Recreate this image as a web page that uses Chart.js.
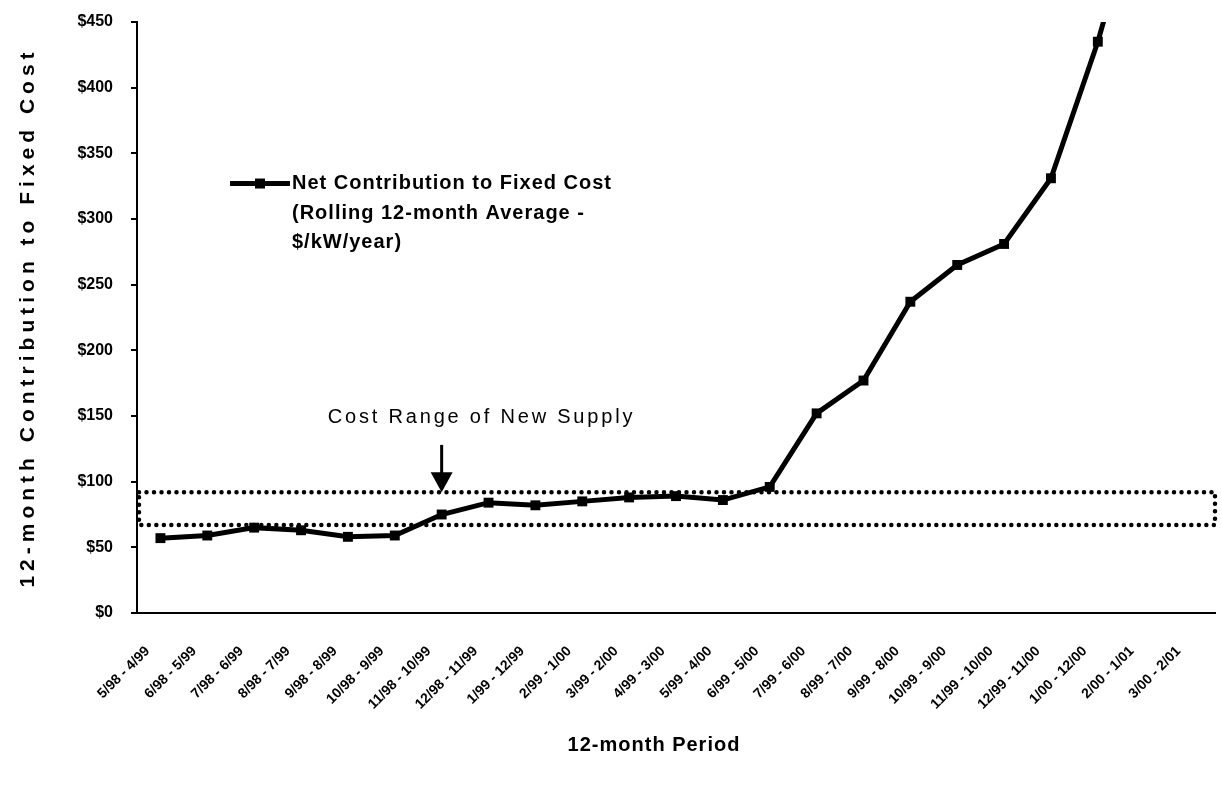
<!DOCTYPE html>
<html>
<head>
<meta charset="utf-8">
<script src="https://cdn.jsdelivr.net/npm/chart.js@4/dist/chart.umd.min.js"></script>
<style>
  html, body { margin: 0; padding: 0; background: #fff; }
  #wrap { width: 1222px; height: 789px; }
</style>
</head>
<body>
<div id="wrap"><canvas id="chart-1"></canvas></div>
<script>
  // rolling 12-month periods on the x axis
  const periods = [
    '5/98 - 4/99', '6/98 - 5/99', '7/98 - 6/99', '8/98 - 7/99', '9/98 - 8/99',
    '10/98 - 9/99', '11/98 - 10/99', '12/98 - 11/99', '1/99 - 12/99', '2/99 - 1/00',
    '3/99 - 2/00', '4/99 - 3/00', '5/99 - 4/00', '6/99 - 5/00', '7/99 - 6/00',
    '8/99 - 7/00', '9/99 - 8/00', '10/99 - 9/00', '11/99 - 10/00', '12/99 - 11/00',
    '1/00 - 12/00', '2/00 - 1/01', '3/00 - 2/01'
  ];
  // $/kW/year, the 2/00 - 1/01 value runs off the top of the chart
  const netContribution = [
    57, 59, 65, 63, 58, 59, 75, 84, 82, 85, 88, 89, 86, 96,
    152, 177, 237, 265, 281, 331, 435, 560, null
  ];
  const supplyCostLow = 67;
  const supplyCostHigh = 92;
  const yMin = 0, yMax = 450, yStep = 50;
  const xTitle = '12-month Period';
  const yTitle = '12-month Contribution to Fixed Cost';
  const legendLines = ['Net Contribution to Fixed Cost', '(Rolling 12-month Average -', '$/kW/year)'];
  const noteText = 'Cost Range of New Supply';
  const noteIndex = 7;     // text centred over this period
  const arrowIndex = 6;    // arrow points down at this period
  const arrowTopValue = 128;
  const noteValue = 149;
  const legendValue = 327;

  const FONT = '"Liberation Sans", Arial, sans-serif';

  const overlays = {
    id: 'overlays',
    beforeDatasetsDraw(chart) {
      const { ctx, chartArea, scales } = chart;
      const yLo = scales.y.getPixelForValue(supplyCostLow);
      const yHi = scales.y.getPixelForValue(supplyCostHigh);
      ctx.save();
      ctx.strokeStyle = '#000';
      ctx.lineWidth = 4.5;
      ctx.lineCap = 'round';
      ctx.setLineDash([0, 7.5]);
      ctx.beginPath();
      ctx.moveTo(chartArea.left + 2, yHi);
      ctx.lineTo(chartArea.right, yHi);
      ctx.lineTo(chartArea.right, yLo);
      ctx.lineTo(chartArea.left + 2, yLo);
      ctx.closePath();
      ctx.stroke();
      ctx.restore();
    },
    afterDraw(chart) {
      const { ctx, chartArea, scales } = chart;
      ctx.save();
      ctx.fillStyle = '#000';
      ctx.strokeStyle = '#000';

      // arrow
      const ax = scales.x.getPixelForValue(arrowIndex);
      const aTop = scales.y.getPixelForValue(arrowTopValue);
      const aTip = scales.y.getPixelForValue(supplyCostHigh);
      ctx.lineWidth = 3;
      ctx.beginPath();
      ctx.moveTo(ax, aTop);
      ctx.lineTo(ax, aTip - 18);
      ctx.stroke();
      ctx.beginPath();
      ctx.moveTo(ax - 11, aTip - 20);
      ctx.lineTo(ax + 11, aTip - 20);
      ctx.lineTo(ax, aTip);
      ctx.closePath();
      ctx.fill();

      // note
      ctx.font = '20px ' + FONT;
      ctx.letterSpacing = '2.8px';
      ctx.textAlign = 'center';
      ctx.textBaseline = 'middle';
      ctx.fillText(noteText, scales.x.getPixelForValue(noteIndex) - 7, scales.y.getPixelForValue(noteValue));

      // legend
      const ly = scales.y.getPixelForValue(legendValue);
      const lx = chartArea.left + 93;
      ctx.lineWidth = 5;
      ctx.beginPath();
      ctx.moveTo(lx, ly);
      ctx.lineTo(lx + 60, ly);
      ctx.stroke();
      ctx.fillRect(lx + 25, ly - 5, 10, 10);
      ctx.font = 'bold 20px ' + FONT;
      ctx.letterSpacing = '1px';
      ctx.textAlign = 'left';
      legendLines.forEach((t, i) => {
        ctx.fillText(t, lx + 62, ly + i * 29.5);
      });

      // axis titles
      ctx.textAlign = 'center';
      ctx.fillText(xTitle, (chartArea.left + chartArea.right) / 2 - 22, 745);
      ctx.save();
      ctx.translate(28, (chartArea.top + chartArea.bottom) / 2);
      ctx.rotate(-Math.PI / 2);
      ctx.font = 'bold 21px ' + FONT;
      ctx.letterSpacing = '5px';
      ctx.fillText(yTitle, 0, 0);
      ctx.restore();
      ctx.restore();
    }
  };

  const chart = new Chart(document.getElementById('chart-1'), {
    type: 'line',
    data: {
      labels: periods,
      datasets: [{
        label: legendLines.join(' '),
        data: netContribution,
        borderColor: '#000',
        backgroundColor: '#000',
        borderWidth: 5,
        pointStyle: 'rect',
        pointRadius: 7,
        pointBorderWidth: 0,
        tension: 0,
        fill: false
      }]
    },
    options: {
      responsive: true,
      maintainAspectRatio: false,
      animation: false,
      layout: { padding: { top: 22, right: 3, left: 0, bottom: 0 } },
      plugins: {
        legend: { display: false },
        tooltip: { enabled: false }
      },
      scales: {
        x: {
          offset: true,
          afterFit: (scale) => {
            scale.height = 176;
            scale.paddingLeft = 0;
            scale.paddingRight = 0;
          },
          grid: { display: false, drawTicks: false },
          border: { display: true, color: '#000', width: 2 },
          ticks: {
            color: '#000',
            font: { family: FONT, size: 14, weight: 'bold' },
            minRotation: 45,
            maxRotation: 45,
            autoSkip: false,
            padding: 30,
            labelOffset: -13
          }
        },
        y: {
          min: yMin,
          max: yMax,
          afterFit: (scale) => {
            scale.width = 137;
            scale.paddingTop = 0;
            scale.paddingBottom = 0;
          },
          grid: { display: true, drawOnChartArea: false, drawTicks: true, tickLength: 6, color: '#000', lineWidth: 2 },
          border: { display: true, color: '#000', width: 2 },
          ticks: {
            stepSize: yStep,
            color: '#000',
            font: { family: FONT, size: 16, weight: 'bold' },
            padding: 18,
            callback: (v) => '$' + v
          }
        }
      }
    },
    plugins: [overlays]
  });
</script>
</body>
</html>
